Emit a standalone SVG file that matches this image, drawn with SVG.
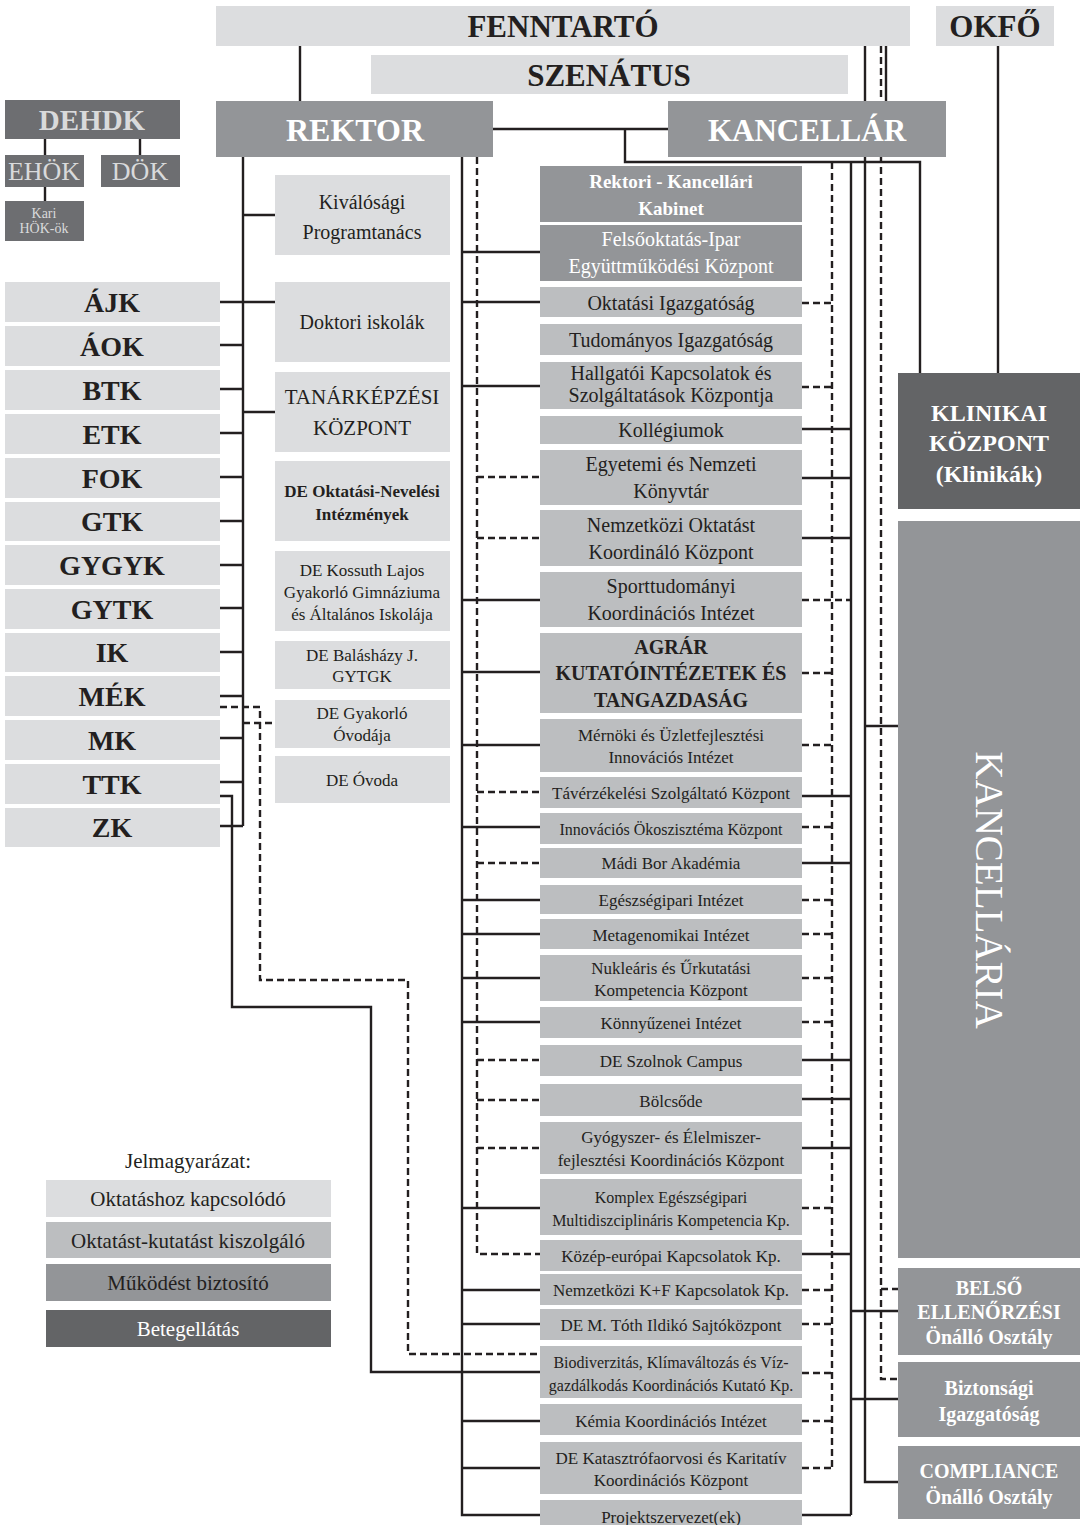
<svg xmlns="http://www.w3.org/2000/svg" width="1080" height="1525" viewBox="0 0 1080 1525">
<style>
.l1{fill:#dcdddf}.l2{fill:#bcbec0}.l3{fill:#939598}.l4{fill:#636466}.l5{fill:#6d6e71}
text{font-family:"Liberation Serif",serif;text-anchor:middle;fill:#231f20}
.w{fill:#fff}.g{fill:#d9dadb}.b{font-weight:bold}
.c{stroke:#231f20;stroke-width:2.4;fill:none}
.d{stroke-dasharray:7 4}
.f31{font-size:31px}.f28{font-size:28px}.f20{font-size:20px}.f19{font-size:19px}.f17{font-size:17px}.f16{font-size:16px}
</style>
<rect width="1080" height="1525" fill="#fff"/>

<g id="connectors">
<path class="c" d="M300 46V101M886 46V101M493 129H668M625 129V162H920V373M998 46V373"/>
<path class="c" d="M851 162V1515M865 46V1482H898M865 726H898M851 1311H898M851 1399H898"/>
<path class="c d" d="M881 46V1379H898M881 1289H898"/>
<path class="c d" d="M832 162V1468"/>
<path class="c" d="M802 429H851M802 478H851M802 538H851M802 796H851M802 863H851M802 1060H851M802 1099H851M802 1148H851M802 1254H851M802 1515H851"/>
<path class="c d" d="M802 303H832M802 387H832M802 600H851M802 673H832M802 745H832M802 827H832M802 900H832M802 934H832M802 978H832M802 1022H832M802 1208H832M802 1290H832M802 1324H832M802 1373H832M802 1421H832M802 1468H832"/>
<path class="c" d="M462 157V1515H540M462 252H540M462 302H540M462 386H540M462 600H540M462 672H540M462 745H540M462 827H540M462 900H540M462 934H540M462 978H540M462 1022H540M462 1208H540M462 1290H540M462 1324H540M462 1372H540M462 1421H540M462 1468H540"/>
<path class="c d" d="M477 157V1254H540M477 477H540M477 538H540M477 792H540M477 863H540M477 1060H540M477 1100H540M477 1148H540"/>
<path class="c" d="M243 157V826M243 215H275M243 302H275M243 412H275"/>
<path class="c" d="M220 302H243M220 345H243M220 389H243M220 433H243M220 477H243M220 521H243M220 565H243M220 608H243M220 652H243M220 696H243M220 738H243M220 782H243M220 826H243"/>
<path class="c" d="M220 796H232V1007H371V1372H462"/>
<path class="c d" d="M220 707H260V980H408V1354H540M243 723H275"/>
<path class="c" d="M45 139V155M140 139V155M45 187V201"/>
</g>

<g id="fenntarto"><rect class="l1" x="216" y="6" width="694" height="40"/><text class="b f31" x="563" y="37">FENNTARTÓ</text></g>
<g id="okfo"><rect class="l1" x="936" y="6" width="118" height="40"/><text class="b f31" x="995" y="37">OKFŐ</text></g>
<g id="szenatus"><rect class="l1" x="371" y="55" width="477" height="39"/><text class="b f31" x="609" y="86">SZENÁTUS</text></g>
<g id="rektor"><rect class="l3" x="216" y="101" width="277" height="56"/><text class="b w" x="355" y="141" font-size="32">REKTOR</text></g>
<g id="kancellar"><rect class="l3" x="668" y="101" width="278" height="56"/><text class="b w" x="807" y="141" font-size="31">KANCELLÁR</text></g>

<g id="dehdk"><rect class="l5" x="5" y="100" width="175" height="39"/><text class="b g" x="92" y="130" font-size="29">DEHDK</text></g>
<g id="ehok"><rect class="l5" x="5" y="155" width="79" height="32"/><text class="g" x="44" y="180" font-size="26">EHÖK</text></g>
<g id="dok"><rect class="l5" x="101" y="155" width="79" height="32"/><text class="g" x="140" y="180" font-size="26">DÖK</text></g>
<g id="karihok"><rect class="l5" x="5" y="201" width="79" height="40"/><text class="g" x="44" y="218" font-size="14">Kari</text><text class="g" x="44" y="233" font-size="14">HÖK-ök</text></g>

<g id="ajk"><rect class="l1" x="5" y="282" width="215" height="40"/><text class="b f28" x="112" y="312">ÁJK</text></g>
<g id="aok"><rect class="l1" x="5" y="326" width="215" height="40"/><text class="b f28" x="112" y="356">ÁOK</text></g>
<g id="btk"><rect class="l1" x="5" y="370" width="215" height="40"/><text class="b f28" x="112" y="400">BTK</text></g>
<g id="etk"><rect class="l1" x="5" y="414" width="215" height="40"/><text class="b f28" x="112" y="444">ETK</text></g>
<g id="fok"><rect class="l1" x="5" y="458" width="215" height="40"/><text class="b f28" x="112" y="488">FOK</text></g>
<g id="gtk"><rect class="l1" x="5" y="502" width="215" height="39"/><text class="b f28" x="112" y="531">GTK</text></g>
<g id="gygyk"><rect class="l1" x="5" y="545" width="215" height="40"/><text class="b f28" x="112" y="575">GYGYK</text></g>
<g id="gytk"><rect class="l1" x="5" y="589" width="215" height="40"/><text class="b f28" x="112" y="619">GYTK</text></g>
<g id="ik"><rect class="l1" x="5" y="633" width="215" height="39"/><text class="b f28" x="112" y="662">IK</text></g>
<g id="mek"><rect class="l1" x="5" y="676" width="215" height="40"/><text class="b f28" x="112" y="706">MÉK</text></g>
<g id="mk"><rect class="l1" x="5" y="720" width="215" height="40"/><text class="b f28" x="112" y="750">MK</text></g>
<g id="ttk"><rect class="l1" x="5" y="764" width="215" height="40"/><text class="b f28" x="112" y="794">TTK</text></g>
<g id="zk"><rect class="l1" x="5" y="808" width="215" height="39"/><text class="b f28" x="112" y="837">ZK</text></g>

<g id="kivalosagi"><rect class="l1" x="275" y="175" width="175" height="80"/><text class="f20" x="362" y="209">Kiválósági</text><text class="f20" x="362" y="239">Programtanács</text></g>
<g id="doktori"><rect class="l1" x="275" y="282" width="175" height="80"/><text class="f20" x="362" y="329">Doktori iskolák</text></g>
<g id="tanarkepzesi"><rect class="l1" x="275" y="372" width="175" height="80"/><text x="362" y="404" font-size="21">TANÁRKÉPZÉSI</text><text x="362" y="435" font-size="21">KÖZPONT</text></g>
<g id="oktnev"><rect class="l1" x="275" y="461" width="175" height="80"/><text class="b f17" x="362" y="497">DE Oktatási-Nevelési</text><text class="b f17" x="362" y="520">Intézmények</text></g>
<g id="kossuth"><rect class="l1" x="275" y="551" width="175" height="80"/><text class="f17" x="362" y="576">DE Kossuth Lajos</text><text class="f17" x="362" y="598">Gyakorló Gimnáziuma</text><text class="f17" x="362" y="620">és Általános Iskolája</text></g>
<g id="balashazy"><rect class="l1" x="275" y="641" width="175" height="48"/><text class="f17" x="362" y="661">DE Balásházy J.</text><text class="f17" x="362" y="682">GYTGK</text></g>
<g id="gyakorloovoda"><rect class="l1" x="275" y="700" width="175" height="48"/><text class="f17" x="362" y="719">DE Gyakorló</text><text class="f17" x="362" y="741">Óvodája</text></g>
<g id="deovoda"><rect class="l1" x="275" y="756" width="175" height="47"/><text class="f17" x="362" y="786">DE Óvoda</text></g>

<g id="kabinet"><rect class="l3" x="540" y="166" width="262" height="56"/><text class="b w f19" x="671" y="188">Rektori - Kancellári</text><text class="b w f19" x="671" y="215">Kabinet</text></g>
<g id="felsookt"><rect class="l3" x="540" y="225" width="262" height="56"/><text class="w f20" x="671" y="246">Felsőoktatás-Ipar</text><text class="w f20" x="671" y="273">Együttműködési Központ</text></g>
<g id="oktig"><rect class="l2" x="540" y="287" width="262" height="30"/><text class="f20" x="671" y="310">Oktatási Igazgatóság</text></g>
<g id="tudig"><rect class="l2" x="540" y="324" width="262" height="31"/><text class="f20" x="671" y="347">Tudományos Igazgatóság</text></g>
<g id="hallgatoi"><rect class="l2" x="540" y="362" width="262" height="47"/><text class="f20" x="671" y="380">Hallgatói Kapcsolatok és</text><text class="f20" x="671" y="402">Szolgáltatások Központja</text></g>
<g id="kollegiumok"><rect class="l2" x="540" y="416" width="262" height="28"/><text class="f20" x="671" y="437">Kollégiumok</text></g>
<g id="konyvtar"><rect class="l2" x="540" y="450" width="262" height="55"/><text class="f20" x="671" y="471">Egyetemi és Nemzeti</text><text class="f20" x="671" y="498">Könyvtár</text></g>
<g id="nemzokt"><rect class="l2" x="540" y="510" width="262" height="56"/><text class="f20" x="671" y="532">Nemzetközi Oktatást</text><text class="f20" x="671" y="559">Koordináló Központ</text></g>
<g id="sport"><rect class="l2" x="540" y="572" width="262" height="55"/><text class="f20" x="671" y="593">Sporttudományi</text><text class="f20" x="671" y="620">Koordinációs Intézet</text></g>
<g id="agrar"><rect class="l2" x="540" y="633" width="262" height="80"/><text class="b f20" x="671" y="654">AGRÁR</text><text class="b f20" x="671" y="680">KUTATÓINTÉZETEK ÉS</text><text class="b f20" x="671" y="707">TANGAZDASÁG</text></g>
<g id="mernoki"><rect class="l2" x="540" y="719" width="262" height="53"/><text class="f17" x="671" y="741">Mérnöki és Üzletfejlesztési</text><text class="f17" x="671" y="763">Innovációs Intézet</text></g>
<g id="taverzekelesi"><rect class="l2" x="540" y="777" width="262" height="31"/><text class="f17" x="671" y="799">Távérzékelési Szolgáltató Központ</text></g>
<g id="innovacios"><rect class="l2" x="540" y="813" width="262" height="31"/><text class="f16" x="671" y="835">Innovációs Ökoszisztéma Központ</text></g>
<g id="madi"><rect class="l2" x="540" y="848" width="262" height="30"/><text class="f17" x="671" y="869">Mádi Bor Akadémia</text></g>
<g id="egeszsegipari"><rect class="l2" x="540" y="885" width="262" height="29"/><text class="f17" x="671" y="906">Egészségipari Intézet</text></g>
<g id="metagenomikai"><rect class="l2" x="540" y="919" width="262" height="30"/><text class="f17" x="671" y="941">Metagenomikai Intézet</text></g>
<g id="nuklearis"><rect class="l2" x="540" y="955" width="262" height="46"/><text class="f17" x="671" y="974">Nukleáris és Űrkutatási</text><text class="f17" x="671" y="996">Kompetencia Központ</text></g>
<g id="konnyuzenei"><rect class="l2" x="540" y="1007" width="262" height="31"/><text class="f17" x="671" y="1029">Könnyűzenei Intézet</text></g>
<g id="szolnok"><rect class="l2" x="540" y="1045" width="262" height="31"/><text class="f17" x="671" y="1067">DE Szolnok Campus</text></g>
<g id="bolcsode"><rect class="l2" x="540" y="1084" width="262" height="32"/><text class="f17" x="671" y="1107">Bölcsőde</text></g>
<g id="gyogyszer"><rect class="l2" x="540" y="1122" width="262" height="52"/><text class="f17" x="671" y="1143">Gyógyszer- és Élelmiszer-</text><text class="f17" x="671" y="1166">fejlesztési Koordinációs Központ</text></g>
<g id="komplex"><rect class="l2" x="540" y="1179" width="262" height="56"/><text class="f16" x="671" y="1203">Komplex Egészségipari</text><text class="f16" x="671" y="1226">Multidiszciplináris Kompetencia Kp.</text></g>
<g id="kozepeuropai"><rect class="l2" x="540" y="1240" width="262" height="31"/><text class="f17" x="671" y="1262">Közép-európai Kapcsolatok Kp.</text></g>
<g id="kf"><rect class="l2" x="540" y="1274" width="262" height="31"/><text class="f17" x="671" y="1296">Nemzetközi K+F Kapcsolatok Kp.</text></g>
<g id="sajto"><rect class="l2" x="540" y="1309" width="262" height="31"/><text class="f17" x="671" y="1331">DE M. Tóth Ildikó Sajtóközpont</text></g>
<g id="biodiv"><rect class="l2" x="540" y="1346" width="262" height="52"/><text class="f16" x="671" y="1368">Biodiverzitás, Klímaváltozás és Víz-</text><text class="f16" x="671" y="1391">gazdálkodás Koordinációs Kutató Kp.</text></g>
<g id="kemia"><rect class="l2" x="540" y="1404" width="262" height="31"/><text class="f17" x="671" y="1427">Kémia Koordinációs Intézet</text></g>
<g id="katasztrofa"><rect class="l2" x="540" y="1442" width="262" height="52"/><text class="f17" x="671" y="1464">DE Katasztrófaorvosi és Karitatív</text><text class="f17" x="671" y="1486">Koordinációs Központ</text></g>
<g id="projekt"><rect class="l2" x="540" y="1500" width="262" height="30"/><text class="f17" x="671" y="1523">Projektszervezet(ek)</text></g>

<g id="klinikai"><rect class="l4" x="898" y="373" width="182" height="136"/><text class="b w" x="989" y="421" font-size="24">KLINIKAI</text><text class="b w" x="989" y="451" font-size="24">KÖZPONT</text><text class="b w" x="989" y="482" font-size="24">(Klinikák)</text></g>
<g id="kancellaria"><rect class="l3" x="898" y="521" width="182" height="737"/><text class="w" font-size="39" transform="translate(989 890) rotate(90)" y="13">KANCELLÁRIA</text></g>
<g id="belso"><rect class="l3" x="898" y="1268" width="182" height="87"/><text class="b w f20" x="989" y="1295">BELSŐ</text><text class="b w f20" x="989" y="1319">ELLENŐRZÉSI</text><text class="b w f20" x="989" y="1344">Önálló Osztály</text></g>
<g id="biztonsagi"><rect class="l3" x="898" y="1362" width="182" height="75"/><text class="b w f20" x="989" y="1395">Biztonsági</text><text class="b w f20" x="989" y="1421">Igazgatóság</text></g>
<g id="compliance"><rect class="l3" x="898" y="1446" width="182" height="73"/><text class="b w f20" x="989" y="1478">COMPLIANCE</text><text class="b w f20" x="989" y="1504">Önálló Osztály</text></g>

<g id="legend">
<text x="188" y="1168" font-size="21">Jelmagyarázat:</text>
<rect class="l1" x="46" y="1180" width="285" height="37"/><text x="188" y="1206" font-size="21">Oktatáshoz kapcsolódó</text>
<rect class="l2" x="46" y="1222" width="285" height="36"/><text x="188" y="1248" font-size="21">Oktatást-kutatást kiszolgáló</text>
<rect class="l3" x="46" y="1264" width="285" height="37"/><text x="188" y="1290" font-size="21">Működést biztosító</text>
<rect class="l4" x="46" y="1310" width="285" height="37"/><text class="w" x="188" y="1336" font-size="21">Betegellátás</text>
</g>
</svg>
